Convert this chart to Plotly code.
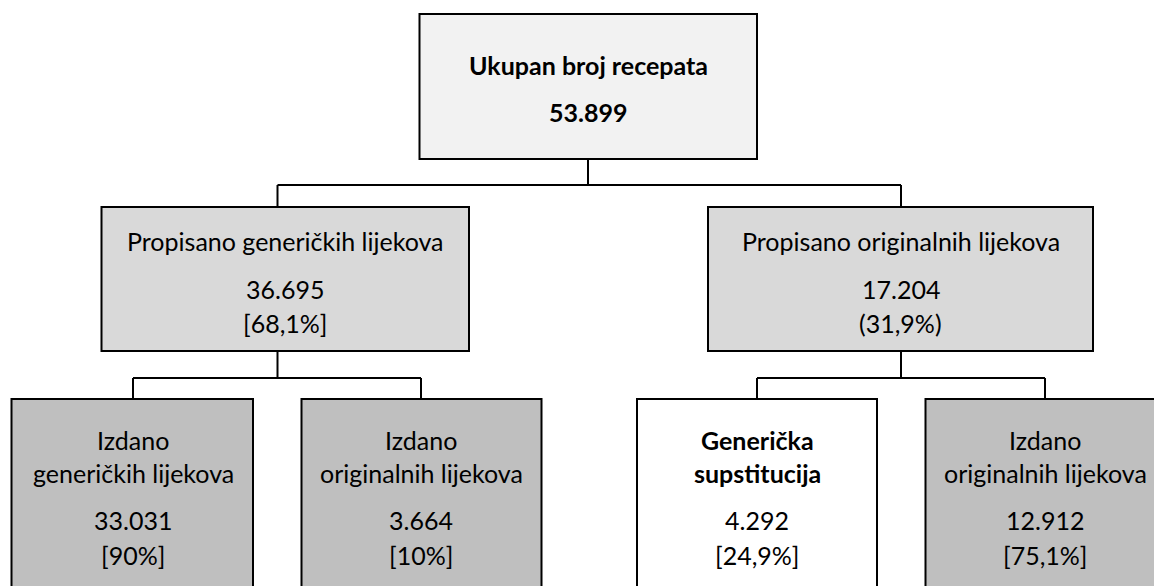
import plotly.graph_objects as go

# ---- data ----
top_label = "Ukupan broj recepata"
top_value = "53.899"

mid_labels = ["Propisano generičkih lijekova", "Propisano originalnih lijekova"]
mid_values = ["36.695", "17.204"]
mid_shares = ["[68,1%]", "(31,9%)"]

bottom_labels_1 = ["Izdano", "Izdano", "Generička", "Izdano"]
bottom_labels_2 = ["generičkih lijekova", "originalnih lijekova", "supstitucija", "originalnih lijekova"]
bottom_values = ["33.031", "3.664", "4.292", "12.912"]
bottom_shares = ["[90%]", "[10%]", "[24,9%]", "[75,1%]"]
bottom_bold = [False, False, True, False]

# ---- layout constants (pixel space of the 1154x586 window) ----
W, H = 1154, 586
FONT = "Lato"
FS = 25
LW = 2

top_box = (419.5, 757, 14, 159)
mid_boxes = [(101.5, 469, 207, 351), (708, 1093, 207, 351)]
mid_conn_x = [277.5, 901]
bot_boxes = [(11.5, 253, 399, 620), (301.5, 541.5, 399, 620),
             (637, 877, 399, 620), (925.5, 1166, 399, 620)]
bot_conn_x = [133, 421, 757, 1045]
bot_fill = ["#bfbfbf", "#bfbfbf", "#ffffff", "#bfbfbf"]

fig = go.Figure()
shapes = []
annos = []


def rect(b, fill):
    shapes.append(dict(type="rect", xref="x", yref="y", x0=b[0], x1=b[1], y0=b[2], y1=b[3],
                       fillcolor=fill, line=dict(color="#000000", width=LW), layer="above"))


def line(x0, y0, x1, y1):
    shapes.append(dict(type="line", xref="x", yref="y", x0=x0, y0=y0, x1=x1, y1=y1,
                       line=dict(color="#000000", width=LW), layer="above"))


def text(x, y, s, bold=False):
    annos.append(dict(x=x, y=y, xref="x", yref="y", text=("<b>%s</b>" % s) if bold else s,
                      showarrow=False, xanchor="center", yanchor="middle",
                      font=dict(family=FONT, size=FS, color="#000000")))


# connectors
top_cx = 588
line(top_cx, top_box[3], top_cx, 185)
line(mid_conn_x[0], 185, mid_conn_x[1], 185)
for cx in mid_conn_x:
    line(cx, 185, cx, mid_boxes[0][2])
for i, cx in enumerate(mid_conn_x):
    line(cx, mid_boxes[i][3], cx, 378)
    a, b = bot_conn_x[2 * i], bot_conn_x[2 * i + 1]
    line(a, 378, b, 378)
    line(a, 378, a, 399)
    line(b, 378, b, 399)

# boxes
rect(top_box, "#f2f2f2")
for b in mid_boxes:
    rect(b, "#d9d9d9")
for b, f in zip(bot_boxes, bot_fill):
    rect(b, f)

# texts
tcx = (top_box[0] + top_box[1]) / 2
text(tcx, 65, top_label, bold=True)
text(tcx, 112, top_value, bold=True)

for i, b in enumerate(mid_boxes):
    cx = (b[0] + b[1]) / 2
    text(cx, 241, mid_labels[i])
    text(cx, 288.5, mid_values[i])
    text(cx, 322.5, mid_shares[i])

for i, b in enumerate(bot_boxes):
    cx = bot_conn_x[i]
    text(cx, 440, bottom_labels_1[i], bold=bottom_bold[i])
    text(cx, 473, bottom_labels_2[i], bold=bottom_bold[i])
    text(cx, 520, bottom_values[i])
    text(cx, 554.5, bottom_shares[i])

fig.update_layout(
    width=W, height=H, autosize=False,
    margin=dict(l=0, r=0, t=0, b=0, pad=0),
    paper_bgcolor="#ffffff", plot_bgcolor="#ffffff",
    xaxis=dict(range=[0, W], visible=False, fixedrange=True),
    yaxis=dict(range=[H, 0], visible=False, fixedrange=True),
    shapes=shapes, annotations=annos, showlegend=False,
)

fig.write_html(
    "out.html",
    config={"displayModeBar": False},
    post_script="document.documentElement.style.overflow='hidden';"
                "document.body.style.margin='0px';"
                "document.body.style.overflow='hidden';",
)
